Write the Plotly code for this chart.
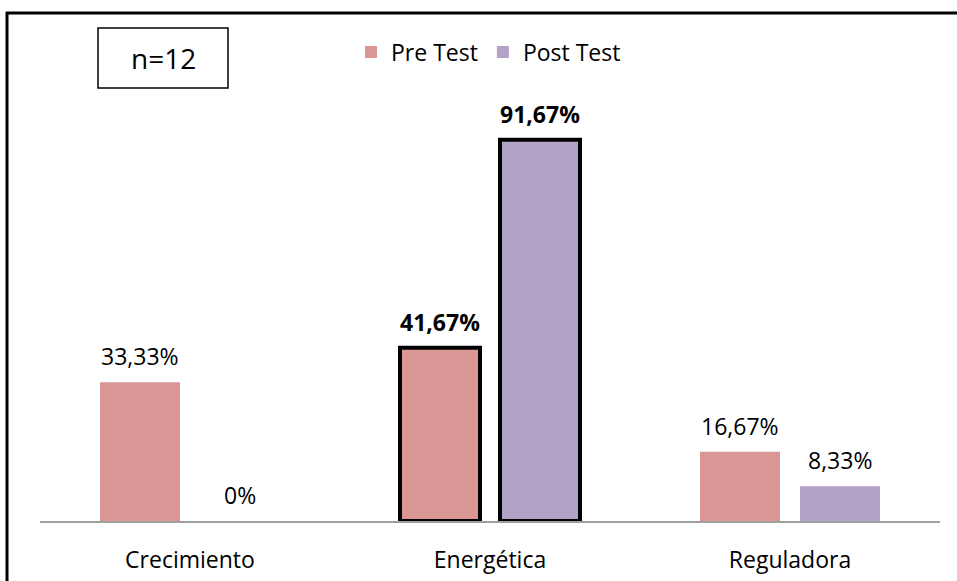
import plotly.graph_objects as go

categories = ["Crecimiento", "Energética", "Reguladora"]
pre_test = [33.33, 41.67, 16.67]
post_test = [0.0, 91.67, 8.33]
pre_labels = ["33,33%", "41,67%", "16,67%"]
post_labels = ["0%", "91,67%", "8,33%"]
bold_flags = [False, True, False]

PINK = "#D99694"
PURPLE = "#B3A2C7"
FONT = "Open Sans, sans-serif"

W, H = 957, 581
L, R, T, B = 40, 17, 105, 60
PW, PH = W - L - R, H - T - B

def px(x):
    return (x - L) / PW

def py(y):
    return (H - B - y) / PH

line_w = [4 if b else 0 for b in bold_flags]

fig = go.Figure()
fig.add_trace(go.Bar(name="Pre Test", x=categories, y=pre_test,
                     marker=dict(color=PINK, line=dict(color="black", width=line_w))))
fig.add_trace(go.Bar(name="Post Test", x=categories, y=post_test,
                     marker=dict(color=PURPLE, line=dict(color="black", width=line_w))))

for i, cat in enumerate(categories):
    for vals, labs, shift in ((pre_test, pre_labels, -50), (post_test, post_labels, 50)):
        txt = labs[i]
        if bold_flags[i]:
            txt = "<b>" + txt + "</b>"
        fig.add_annotation(x=i, y=vals[i], xref="x", yref="y", text=txt,
                           showarrow=False, xshift=shift, yshift=26,
                           font=dict(size=23, color="black", family=FONT))

# outer frame (top and left edges visible)
fig.add_shape(type="line", xref="paper", yref="paper",
              x0=px(6), x1=px(957), y0=py(13), y1=py(13),
              line=dict(color="black", width=3))
fig.add_shape(type="line", xref="paper", yref="paper",
              x0=px(7), x1=px(7), y0=py(12), y1=py(581),
              line=dict(color="black", width=3))
# n=12 box
fig.add_shape(type="rect", xref="paper", yref="paper",
              x0=px(98), x1=px(228), y0=py(88), y1=py(28),
              line=dict(color="black", width=1.5))
fig.add_annotation(xref="paper", yref="paper", x=px(163), y=py(58), text="n=12",
                   showarrow=False, font=dict(size=28, color="black", family=FONT),
                   xanchor="center", yanchor="middle")

fig.update_layout(
    template="none",
    width=W, height=H,
    margin=dict(l=L, r=R, t=T, b=B, autoexpand=False),
    paper_bgcolor="white", plot_bgcolor="white",
    barmode="group", bargap=1/3, bargroupgap=0.2,
    font=dict(family=FONT, size=23, color="black"),
    legend=dict(orientation="h", x=px(351), y=py(52), xanchor="left", yanchor="middle",
                font=dict(size=23, family=FONT), itemwidth=30, traceorder="normal",
                bgcolor="rgba(0,0,0,0)"),
    showlegend=True,
)
fig.update_xaxes(showline=True, linecolor="#A0A0A0", linewidth=2, ticks="",
                 showgrid=False, ticklabelstandoff=17, automargin=False,
                 tickfont=dict(size=23, family=FONT))
fig.update_yaxes(range=[0, 100], visible=False, showgrid=False, zeroline=False,
                 automargin=False)

fig.write_html("out.html")
